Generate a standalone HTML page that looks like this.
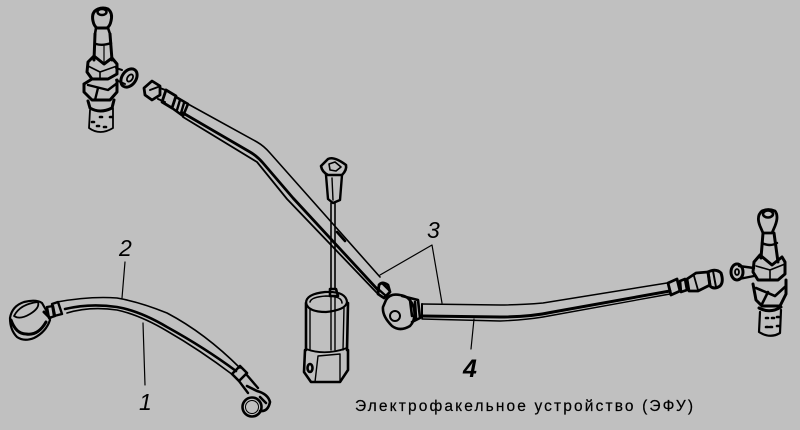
<!DOCTYPE html>
<html>
<head>
<meta charset="utf-8">
<style>
html,body{margin:0;padding:0;background:#c0c0c0}
svg{display:block}
</style>
</head>
<body>
<svg width="800" height="430" viewBox="0 0 800 430" xmlns="http://www.w3.org/2000/svg">
<rect width="800" height="430" fill="#c0c0c0"/>
<g fill="none" stroke="#000" stroke-width="1.8" stroke-linejoin="round" stroke-linecap="round">

<!-- Left plug -->
<g id="plugL">
<path d="M93 21 Q91 12 98 9 Q103 7 108 9 Q113 13 111 21 Q110 26 107 28 L97 28 Q94 26 93 21Z" stroke-width="3" fill="#c0c0c0"/>
<ellipse cx="102" cy="12" rx="4.5" ry="3" stroke-width="2.5"/>
<path d="M96 28 L95 34 M108 28 L110 34" stroke-width="2.6"/>
<path d="M95 34 L94 60 M110 34 L112 60" stroke-width="3"/>
<path d="M96 44 Q103 46 111 43" stroke-width="2.4"/>
<path d="M104 46 L104 62" stroke-width="1.2"/>
<path d="M88 62 L94 56 L104 64 L112 58 L117 64 L117 74 L108 79 L92 79 L87 72Z" stroke-width="3"/>
<path d="M88 66 L100 72 L117 66 M100 72 L100 79" stroke-width="1.6"/>
<path d="M84 84 L92 79 M84 84 L84 92 L92 100 L110 100 L117 92 L117 80" stroke-width="3"/>
<path d="M88 85 L108 90 L116 84 M98 88 L95 100" stroke-width="2.4"/>
<path d="M88 101 L90 108 Q100 114 112 108 L114 100" stroke-width="3"/>
<path d="M90 110 L89 128 Q100 136 113 128 L113 108" stroke-width="1.8"/>
<path d="M100 117h2M110 117h2M97 126h2M104 127h2M92 122h2" stroke-width="2.6"/>
<path d="M116 68 L122 70 M116 80 L125 84" stroke-width="2"/>
<ellipse cx="129" cy="78" rx="7" ry="10" transform="rotate(35 129 78)" stroke-width="3"/>
<ellipse cx="130" cy="78" rx="2.5" ry="4" transform="rotate(35 130 78)" stroke-width="1.8"/>
</g>

<!-- Long pipe upper fitting -->
<path d="M144 88 L152 81 L160 86 L160 95 L152 100 L145 95Z" stroke-width="2.8"/>
<path d="M150 90 L158 87 M160 88 L168 91 M158 99 L165 102" stroke-width="2"/>
<path d="M166 90 L176 96 L172 108 L162 102Z" stroke-width="2.8"/>
<path d="M176 97 L188 104 L183 116 L172 108" stroke-width="2.6"/>
<path d="M180 100 L177 110 M184 103 L181 113" stroke-width="2.4"/>
<!-- Long pipe -->
<path d="M188 104 L257 142 Q264 146 270 153 L380 277" stroke-width="1.6"/>
<path d="M183 113 L250 152 Q257 156 263 163 L293 198 L378 290" stroke-width="2.8"/>
<path d="M183 117 L257 162 L287 199 L377 293" stroke-width="1.8"/>
<path d="M337 232 L345 241" stroke-width="2.6"/>

<!-- Fitting ring centre -->
<path d="M379 285 Q382 281 388 285 L390 292 L384 298 L378 294Z" stroke-width="2.8"/>
<path d="M377 288 L386 296 M382 283 L389 290" stroke-width="2.4"/>
<path d="M386 300 Q390 293 400 295 Q410 296 414 308 Q416 320 410 326 Q400 332 392 326 Q382 316 383 307 Z" stroke-width="2.6" fill="#c0c0c0"/>
<circle cx="395" cy="316" r="5" stroke-width="2"/>
<path d="M402 296 L418 300 L420 318 L412 322" stroke-width="2.6"/>
<path d="M410 300 L412 316 M415 302 L416 318" stroke-width="2.6"/>

<!-- Right pipe -->
<path d="M422 304 L500 305 Q520 305 543 303 L667 283" stroke-width="1.5"/>
<path d="M422 316 L500 317 Q530 317 553 312 L670 291" stroke-width="3"/>
<path d="M422 319 L500 321 Q525 320 543 317 L670 294" stroke-width="1.4"/>
<path d="M422 304 L422 318" stroke-width="2"/>
<!-- Right pipe fitting -->
<path d="M668 283 L677 279 L680 291 L671 295Z" stroke-width="2.8"/>
<path d="M680 281 L685 279 L687 290 L681 292Z" stroke-width="2.6"/>
<path d="M687 279 L696 273 L708 272 L710 285 L698 291 L689 291Z" stroke-width="2.8"/>
<path d="M694 276 L698 290" stroke-width="1.8"/>
<path d="M708 272 Q716 268 721 273 Q724 282 720 286 Q714 290 710 286Z" stroke-width="3"/>
<path d="M713 271 L716 287" stroke-width="2"/>

<!-- Right plug -->
<g id="plugR">
<path d="M760 226 Q756 216 762 211 Q768 208 775 211 Q779 216 775 226 L772 233 L763 233Z" stroke-width="2.8" fill="#c0c0c0"/>
<ellipse cx="768" cy="214" rx="5" ry="3.5" stroke-width="2.6"/>
<path d="M763 233 L761 258 M774 233 L778 262" stroke-width="3"/>
<path d="M762 243 Q770 247 777 243" stroke-width="2.4"/>
<path d="M754 262 L760 255 L772 265 L782 257 L785 262 L785 274 L778 280 L758 280 L753 272Z" stroke-width="3"/>
<path d="M756 266 L770 270 L785 264 M770 270 L770 280" stroke-width="1.6"/>
<path d="M753 284 L756 300 L762 306 L780 306 L786 294 L786 280" stroke-width="3"/>
<path d="M756 288 L775 296 L786 286 M768 292 L762 304" stroke-width="2.6"/>
<path d="M759 308 Q770 314 781 307" stroke-width="3"/>
<path d="M760 312 L759 332 Q770 339 780 333 L781 310" stroke-width="2.2"/>
<path d="M766 318h2M772 318h2M777 317h2M766 327h2M770 327h2M777 326h2" stroke-width="2.6"/>
<path d="M739 266 L754 268 M739 279 L754 276" stroke-width="2.4"/>
<ellipse cx="737" cy="272" rx="6" ry="8" stroke-width="3"/>
<ellipse cx="737" cy="272" rx="2" ry="3" stroke-width="1.8"/>
</g>

<!-- Connector + rod -->
<path d="M321 166 L328 159 Q334 156 346 165 Q347 170 342 175 L328 175 Q322 172 321 166Z" stroke-width="2.6"/>
<path d="M329 164 L335 162 L341 167 L336 171 L330 170Z" stroke-width="1.6"/>
<path d="M326 175 L328 199 L333 203 L340 200 L342 175" stroke-width="2.4"/>
<path d="M332 178 L333 200" stroke-width="1.4"/>
<path d="M331 203 L331 288 M335 203 L335 288" stroke-width="1.6"/>
<path d="M330 289 L336 289 L338 296 L330 296Z" stroke-width="2.6"/>

<!-- Socket -->
<path d="M306 303 Q306 294 325 292 Q346 291 347 302 Q346 310 326 312 Q308 312 306 303Z" stroke-width="2.2"/>
<path d="M310 302 Q311 297 326 296 Q342 296 342 303" stroke-width="1.6"/>
<path d="M306 303 L306 350 M348 303 L347 350" stroke-width="2.6"/>
<path d="M310 310 L310 350 M344 308 L343 350 M331 296 L331 350 M335 296 L335 350" stroke-width="1.4"/>
<path d="M306 349 Q325 356 347 348" stroke-width="1.8"/>
<path d="M305 350 L304 372 L311 382 L340 382 L348 370 L348 350" stroke-width="2.6"/>
<path d="M318 356 L315 382 M340 354 L340 382 M318 356 L340 354" stroke-width="1.4"/>
<ellipse cx="310" cy="368" rx="2.5" ry="4" stroke-width="2.6"/>

<!-- Flexible hose -->
<path d="M57 302 Q90 296 117 298 Q140 302 167 313 Q205 333 240 368" stroke-width="1.6"/>
<path d="M67 313 Q90 306 117 310 Q140 315 167 331 Q200 350 233 375" stroke-width="1.6"/>
<path d="M65 309 Q90 303 117 307 Q140 311 167 327 Q205 348 236 371" stroke-width="2.6"/>
<path d="M52 304 L58 302 L62 314 L54 316Z" stroke-width="2.4"/>
<path d="M47 307 L53 306 L55 316 L49 318Z" stroke-width="2.4"/>
<!-- Banjo on hose left -->
<path d="M10 318 Q12 306 24 302 Q36 299 42 303 L46 310 L50 320 Q46 332 34 338 Q24 342 17 337 Q10 330 10 318Z" stroke-width="2.2"/>
<path d="M14 316 Q20 304 38 302 Q40 308 30 314 Q20 320 14 316Z" stroke-width="1.8"/>
<path d="M11 320 Q16 334 26 334 Q38 336 46 322" stroke-width="3"/>
<path d="M44 312 L50 318" stroke-width="3"/>
<!-- Hose right end -->
<path d="M232 374 L240 366 L247 373 L239 381Z" stroke-width="2.6"/>
<path d="M239 381 L248 393 M246 374 L258 388" stroke-width="2.4"/>
<path d="M247 386 L257 391 Q268 394 270 402 Q268 412 260 411" stroke-width="2.6"/>
<circle cx="252" cy="407" r="9.5" stroke-width="2.6"/>
<circle cx="252" cy="407" r="6.5" stroke-width="1"/>
<path d="M260 397 L266 403" stroke-width="2.6"/>

<!-- Leaders -->
<g stroke-width="1.2">
<path d="M125 262 L122 298"/>
<path d="M143 323 L145 385"/>
<path d="M380 275 L432 245 L442 303"/>
<path d="M474 319 L471 349"/>
</g>
</g>

<!-- Labels -->
<g font-family="'Liberation Sans',sans-serif" font-style="italic" fill="#000">
<text x="119" y="256" font-size="23">2</text>
<text x="139" y="410" font-size="23">1</text>
<text x="427" y="238" font-size="23">3</text>
<text x="463" y="377" font-size="25" font-weight="bold">4</text>
</g>
<text x="355" y="411" font-family="'Liberation Sans',sans-serif" font-size="15.5" fill="#000" stroke="#000" stroke-width="0.2" textLength="338" lengthAdjust="spacing">Электрофакельное устройство (ЭФУ)</text>
</svg>
</body>
</html>
